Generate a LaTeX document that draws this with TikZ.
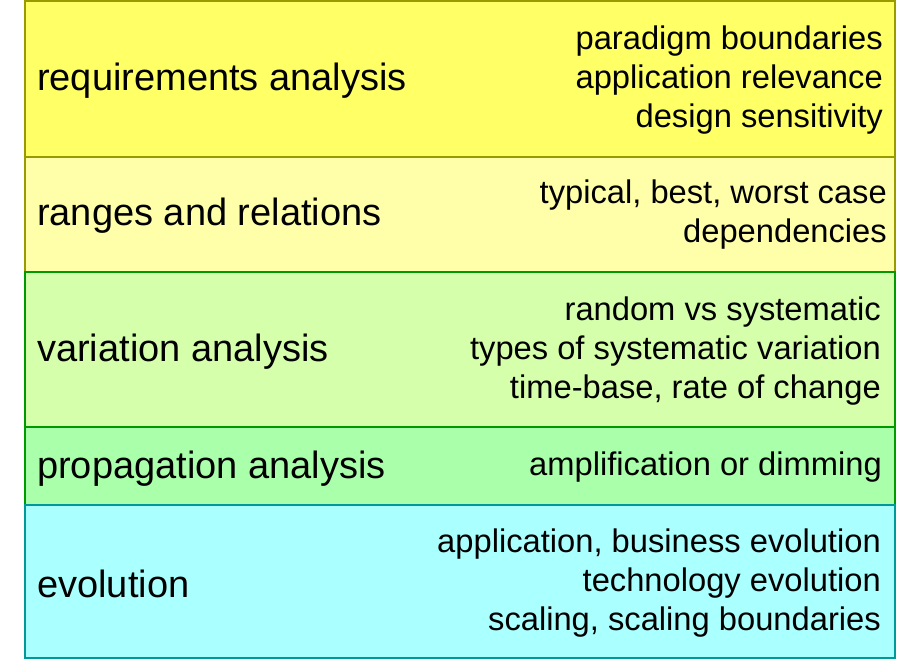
\documentclass[tikz,border=0pt]{standalone}
\usepackage{fontspec}
\setmainfont{Liberation Sans}
\definecolor{yA}{HTML}{FFFF66}
\definecolor{yB}{HTML}{FFFFAA}
\definecolor{gA}{HTML}{D5FFAA}
\definecolor{gB}{HTML}{AAFFAA}
\definecolor{cA}{HTML}{AAFFFF}
\definecolor{olive}{HTML}{999900}
\definecolor{grn}{HTML}{009900}
\definecolor{teal}{HTML}{009999}
\tikzset{
  rowbox/.style={line width=2pt},
  lefttext/.style={anchor=west,inner sep=0pt,font=\fontsize{38}{44}\selectfont},
  righttext/.style={anchor=east,inner sep=0pt,align=right,font=\fontsize{32.7}{39}\selectfont}
}
\begin{document}
\begin{tikzpicture}[x=1pt,y=-1pt]
\useasboundingbox (0,0) rectangle (920,660);
\filldraw[rowbox,fill=yA,draw=olive] (25,1) rectangle (895,157);
\filldraw[rowbox,fill=yB,draw=olive] (25,157) rectangle (895,272);
\filldraw[rowbox,fill=gA,draw=grn] (25,272) rectangle (895,427);
\filldraw[rowbox,fill=gB,draw=grn] (25,427) rectangle (895,505);
\filldraw[rowbox,fill=cA,draw=teal] (25,505) rectangle (895,658);
\node[lefttext] (l1) at (37,81) {requirements analysis};
\node[lefttext] (l2) at (37,216) {ranges and relations};
\node[lefttext] (l3) at (37,352) {variation analysis};
\node[lefttext] (l4) at (37,469) {propagation analysis};
\node[lefttext] (l5) at (37,584) {evolution};
\node[righttext] (r1) at (883,80) {paradigm boundaries\\application relevance\\design sensitivity};
\node[righttext] (r2) at (887,215) {typical, best, worst case\\dependencies};
\node[righttext] (r3) at (881,351) {random vs systematic\\types of systematic variation\\time-base, rate of change};
\node[righttext] (r4) at (882,467) {amplification or dimming};
\node[righttext] (r5) at (881,583) {application, business evolution\\technology evolution\\scaling, scaling boundaries};
\end{tikzpicture}
\end{document}
